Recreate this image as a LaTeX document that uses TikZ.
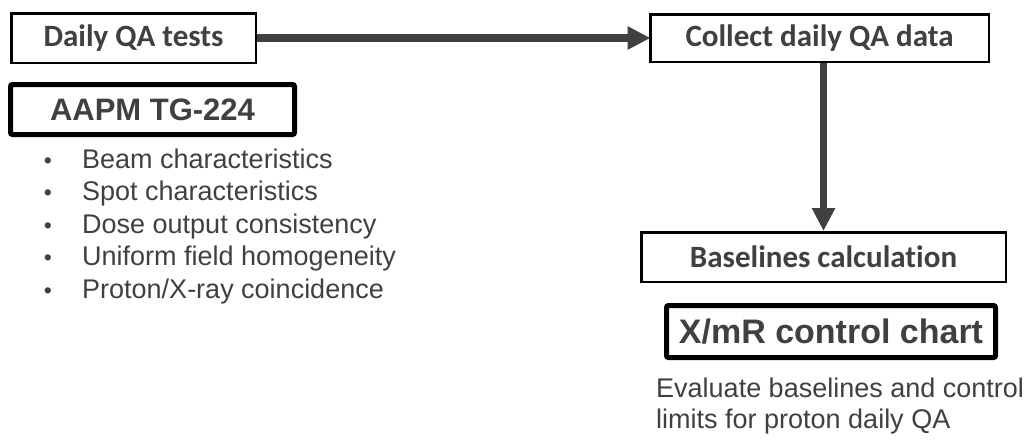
\documentclass[tikz,border=0pt]{standalone}
\usepackage{fontspec}
\setmainfont{Liberation Sans}
\newfontfamily\calibri[Ligatures={NoCommon}]{Carlito}
\usetikzlibrary{arrows.meta}
\definecolor{txt}{HTML}{404040}
\definecolor{arr}{HTML}{404040}
\begin{document}
\begin{tikzpicture}[x=1pt,y=-1pt,
  thinbox/.style={draw=black, line width=2.5pt, fill=white, inner sep=0pt,
    text=txt, font=\calibri\bfseries\fontsize{31}{36}\selectfont},
  thickbox/.style={draw=black, line width=5pt, rounded corners=2pt, fill=white, inner sep=0pt,
    text=txt, font=\bfseries\fontsize{31}{36}\selectfont},
  bul/.style={inner sep=0pt, text=txt, font=\fontsize{23}{32}\selectfont},
  item/.style={inner sep=0pt, text=txt, font=\fontsize{27}{32}\selectfont},
  flow/.style={draw=arr, line width=7.5pt, -{Triangle[length=23pt,width=22pt]}}]
\useasboundingbox[fill=white] (0,0) rectangle (1032,439);

\node[thinbox, minimum width=244.5pt, minimum height=49.5pt] (dqa) at (133.5,38) {Daily QA tests};
\node[thinbox, minimum width=338.5pt, minimum height=47.5pt] (col) at (819.5,38) {Collect daily QA data};
\node[thinbox, minimum width=364.5pt, minimum height=49.5pt] (base) at (823.5,257) {Baselines calculation};
\node[thickbox, minimum width=284pt, minimum height=50pt] (aapm) at (152.5,109.5) {AAPM TG-224};
\node[thickbox, minimum width=329pt, minimum height=52pt, font=\bfseries\fontsize{34}{40}\selectfont] (xmr) at (831,331.5) {X/mR control chart};

\foreach \t [count=\i] in {Beam characteristics, Spot characteristics, Dose output consistency, Uniform field homogeneity, Proton/X-ray coincidence}{
  \pgfmathsetmacro{\yy}{168+32.5*(\i-1)}
  \node[bul, anchor=base] (b\i) at (48,\yy) {•};
  \node[item, anchor=base west] (i\i) at (82,\yy) {\t};
}

\node[item, align=left, anchor=north west, font=\fontsize{27}{31}\selectfont] (eval) at (656,378) {Evaluate baselines and control\\limits for proton daily QA};

\draw[flow, shorten >=-1.5pt] (dqa.east) -- (col.west);
\draw[flow] (col.south -| base.north) -- (base.north);
\end{tikzpicture}
\end{document}
